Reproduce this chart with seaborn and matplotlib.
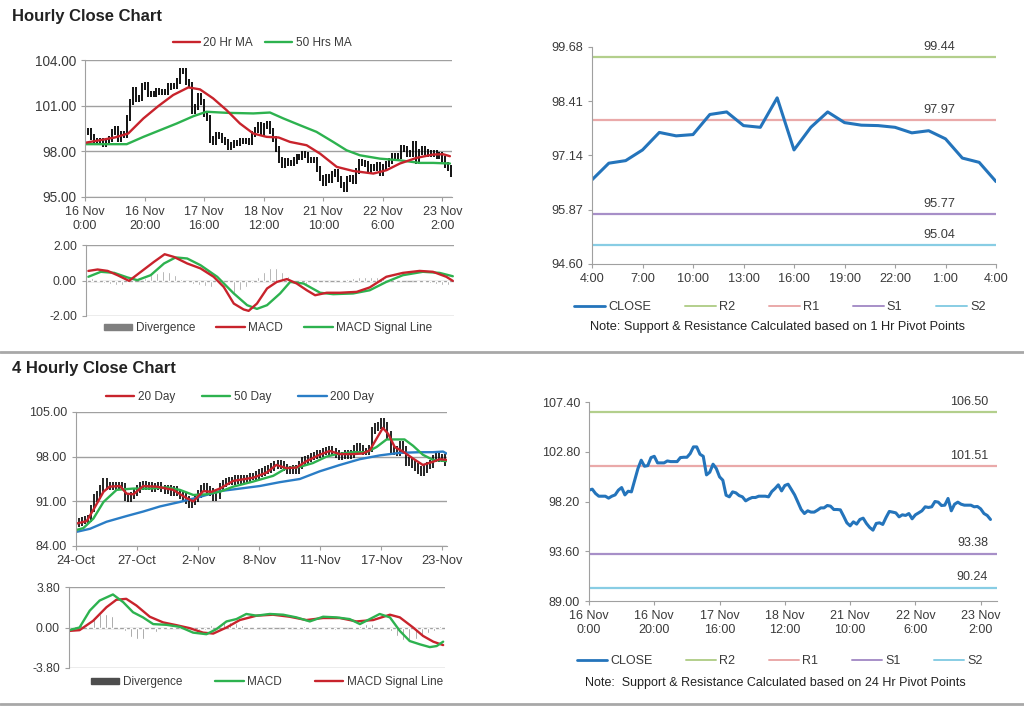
import numpy as np
import pandas as pd
import seaborn as sns
import matplotlib
matplotlib.use("Agg")
import matplotlib.pyplot as plt
from matplotlib.lines import Line2D
from matplotlib.patches import Patch
from matplotlib.ticker import FormatStrFormatter

# ---------------- DATA ----------------
# Hourly closes (16 Nov 0:00 .. 23 Nov ~3:00)
h_close = [99.25, 99.34, 98.94, 98.69, 98.69, 98.69, 98.51, 98.69, 98.81, 99.25,
           99.49, 98.81, 99.15, 99.09, 100.17, 101.25, 102.02, 101.46, 101.52, 102.26,
           102.38, 101.77, 101.77, 101.77, 101.95, 101.89, 101.89, 101.89, 102.26, 102.29,
           102.29, 102.63, 103.25, 103.25, 102.57, 102.38, 100.66, 100.91, 101.65, 101.25,
           100.48, 100.17, 98.78, 98.63, 99.09, 99.00, 98.75, 98.63, 98.26, 98.44,
           98.57, 98.57, 98.69, 98.69, 98.69, 98.63, 99.12, 99.40, 99.74, 99.18,
           99.68, 99.80, 99.31, 98.81, 98.14, 97.46, 97.09, 97.34, 97.22, 97.22,
           97.40, 97.61, 97.61, 97.83, 97.77, 97.46, 97.46, 97.43, 96.85, 96.23,
           95.95, 96.32, 96.11, 96.54, 96.66, 96.17, 95.80, 95.55, 96.17, 96.23,
           96.08, 96.72, 97.28, 97.22, 97.15, 96.78, 96.97, 96.91, 97.09, 96.60,
           96.97, 97.15, 97.34, 97.71, 97.65, 97.71, 98.20, 98.14, 97.83, 97.86,
           98.48, 97.34, 97.95, 98.14, 97.95, 97.86, 97.86, 97.86, 97.71, 97.74,
           97.52, 97.09, 96.91, 96.54]
h_tick_labels = ["16 Nov\n0:00", "16 Nov\n20:00", "17 Nov\n16:00", "18 Nov\n12:00",
                 "21 Nov\n10:00", "22 Nov\n6:00", "23 Nov\n2:00"]

ma20_idx = [0, 5, 10, 14.5, 19.6, 24.6, 29.6, 34.7, 38.6, 43, 47.5, 52, 56.5, 61, 65,
            68.8, 74.4, 78.9, 84.5, 90, 96.8, 101.2, 105.7, 111.3, 116.9, 120.2, 122.5]
ma20_val = [98.56, 98.73, 98.91, 99.17, 100.16, 100.97, 101.70, 102.20, 102.07, 101.48,
            100.71, 99.83, 99.17, 98.95, 98.91, 98.62, 98.40, 97.85, 96.98, 96.71, 96.54,
            96.76, 97.20, 97.57, 97.79, 97.81, 97.68]
ma50_idx = [0, 14, 19.6, 25.2, 30.8, 36.4, 40.8, 47.5, 56.5, 62.1, 66.6, 72.1, 77.7,
            83.3, 87.8, 92.3, 99, 105.7, 112.4, 116.9, 122.5]
ma50_val = [98.47, 98.47, 98.95, 99.39, 99.83, 100.31, 100.60, 100.53, 100.49, 100.55,
            100.16, 99.72, 99.28, 98.62, 98.07, 97.74, 97.52, 97.41, 97.24, 97.24, 97.20]

hmacd_idx = [0.8, 3.9, 7.3, 10.6, 14.5, 18.5, 22.9, 26.5, 29.6, 34.1, 38.6, 43, 46.4,
             49.8, 53.1, 54.8, 57.6, 61, 64.3, 67.7, 71, 74.4, 77.2, 81.1, 85.6, 91.2,
             95.6, 101.2, 106.8, 112.4, 116.9, 121.4, 123.6]
hmacd_val = [0.54, 0.62, 0.54, 0.30, -0.02, 0.49, 1.05, 1.48, 1.33, 0.96, 0.68, 0.21,
             -0.36, -1.30, -1.63, -1.71, -1.30, -0.45, -0.08, 0.08, -0.17, -0.55, -0.83,
             -0.69, -0.69, -0.64, -0.39, 0.21, 0.43, 0.54, 0.49, 0.21, -0.02]
hsig_idx = [0.8, 5, 9.5, 14, 17.3, 21.8, 26.3, 30.2, 34.1, 38.6, 44.2, 49.8, 54.3, 57.6,
            61, 65.4, 68.8, 73.3, 78.9, 83.3, 90, 95.6, 101.2, 106.8, 113.5, 119.1, 123.6]
hsig_val = [0.21, 0.49, 0.43, 0.17, 0.02, 0.30, 0.96, 1.30, 1.24, 0.86, 0.21, -0.73,
            -1.39, -1.60, -1.39, -0.73, -0.08, -0.17, -0.69, -0.77, -0.73, -0.55, -0.08,
            0.30, 0.49, 0.43, 0.24]
# divergence, every second hour
hdiv = [0.25, 0.15, 0.05, -0.15, -0.2, -0.25, -0.28, -0.3, -0.2, -0.05,
        0.15, 0.3, 0.45, 0.55, 0.5, 0.3, 0.1, -0.1, -0.2, -0.25,
        -0.3, -0.35, -0.45, -0.6, -0.8, -0.7, -0.55, -0.35, -0.15,
        0.2, 0.5, 0.72, 0.7, 0.5, 0.25,
        -0.05, -0.12, -0.18, -0.2, -0.15, -0.1, -0.05,
        0.0, 0.05, 0.1, 0.15, 0.18, 0.2, 0.2, 0.18, 0.12, 0.08,
        0.05, 0.02, -0.03, -0.05, -0.08, -0.1, -0.15, -0.2, -0.25, -0.28]

# last 24 hours close (top right)
d_hours = ["4:00", "7:00", "10:00", "13:00", "16:00", "19:00", "22:00", "1:00", "4:00"]
d_close = [96.57, 96.96, 97.02, 97.27, 97.68, 97.60, 97.63, 98.10, 98.16, 97.84, 97.80,
           98.49, 97.27, 97.80, 98.16, 97.91, 97.85, 97.84, 97.80, 97.67, 97.72, 97.53,
           97.08, 96.98, 96.53]
h1_levels = {"R2": 99.44, "R1": 97.97, "S1": 95.77, "S2": 95.04}
h1_yticks = [94.60, 95.87, 97.14, 98.41, 99.68]
h24_levels = {"R2": 106.50, "R1": 101.51, "S1": 93.38, "S2": 90.24}
h24_yticks = [89.00, 93.60, 98.20, 102.80, 107.40]

# 4-hourly closes (24-Oct .. 23-Nov)
q_close = [87.5, 87.8, 88.0, 88.1, 88.3, 89.9, 91.5, 92.0, 93.0, 94.1,
           93.3, 93.5, 93.3, 93.5, 93.4, 93.3, 91.7, 91.5, 91.9, 92.5,
           92.9, 93.4, 93.6, 93.3, 93.4, 93.1, 93.3, 93.4, 93.0, 92.8,
           92.9, 92.5, 92.8, 92.4, 92.0, 91.7, 91.2, 90.6, 91.0, 91.5,
           92.2, 93.0, 93.3, 92.8, 92.5, 91.7, 92.0, 93.3, 93.8, 94.1,
           94.2, 94.1, 94.5, 94.3, 94.5, 94.6, 94.5, 94.9, 94.9, 95.1,
           95.4, 95.6, 95.9, 96.1, 96.4, 96.7, 96.8, 96.7, 96.3, 95.9,
           95.9, 96.1, 95.9, 96.7, 97.3, 97.5, 97.7, 98.0, 98.2, 98.4,
           98.5, 98.8, 98.9, 99.0, 98.7, 98.4, 98.0, 98.2, 98.4, 98.2,
           98.4, 99.3, 99.5, 99.2, 98.8, 98.8, 99.3, 102.1, 102.7, 102.9,
           103.4, 102.9, 101.4, 98.8, 99.0, 98.7, 99.8, 99.0, 97.2, 97.4,
           96.9, 96.4, 95.9, 95.6, 96.1, 96.6, 96.9, 97.7, 98.2, 97.7,
           97.8, 97.1]
q_tick_labels = ["24-Oct", "27-Oct", "2-Nov", "8-Nov", "11-Nov", "17-Nov", "23-Nov"]
d20_idx = [0, 3.5, 6.2, 9, 11, 14.4, 16.6, 18.8, 22, 26.4, 31.8, 36.2, 38.4, 41.7, 44.4,
           47.1, 51.5, 58, 62.4, 65.6, 68.9, 72.2, 75.5, 79.8, 83.1, 86.4, 90.7, 94, 96.2,
           98.4, 100.5, 102.2, 104.4, 107.1, 110.4, 113.6, 116.9, 119.1, 121.3]
d20_val = [87.5, 87.9, 90.1, 92.5, 93.3, 93.4, 92.2, 92.1, 93.4, 93.3, 92.8, 91.5, 91.0,
           92.6, 92.5, 93.0, 94.2, 94.7, 95.5, 96.7, 96.2, 96.3, 97.3, 98.3, 98.9, 98.4,
           98.4, 98.5, 99.0, 100.8, 102.5, 101.6, 99.5, 98.8, 97.7, 96.7, 97.2, 97.6, 97.5]
d50_idx = [0, 2.4, 5.7, 9, 13.3, 18.8, 24.2, 29.7, 34, 38.4, 42.7, 47.1, 51.5, 58, 64.6,
           68.9, 73.3, 77.6, 82, 85.3, 90.7, 95.1, 98.4, 101.7, 106, 107.6, 110.4, 113.6,
           116.9, 121.3]
d50_val = [86.5, 86.8, 88.3, 90.9, 92.8, 93.0, 93.0, 93.2, 92.8, 92.0, 92.1, 92.5, 93.3,
           94.1, 95.0, 96.2, 96.4, 97.0, 98.0, 98.4, 98.7, 98.7, 99.5, 100.7, 100.7, 100.7,
           99.7, 98.3, 97.5, 97.3]
d200_idx = [0, 4.6, 10, 16.6, 22, 27.5, 34, 40.6, 47.1, 53.7, 60.2, 66.7, 73.3, 79.8,
            86.4, 92.9, 99.5, 106, 112.6, 116.9, 120.2, 121.3]
d200_val = [86.2, 86.7, 87.8, 88.7, 89.4, 90.2, 90.9, 91.7, 92.6, 93.0, 93.4, 94.0, 94.5,
            95.7, 96.7, 97.6, 98.2, 98.6, 98.7, 98.7, 98.8, 98.5]

qmacd_idx = [0, 3.4, 6.7, 9.9, 14.2, 17.5, 20.7, 23.9, 27.2, 31.5, 35.8, 40.1, 44.4, 47.6,
             50.9, 54.1, 57.3, 60.6, 64.9, 69.2, 73.5, 77.8, 82.1, 86.4, 90.7, 94, 97.2,
             100.4, 103.7, 106.9, 110.1, 113.4, 116.6, 118.8, 120.9]
qmacd_val = [-0.25, 0.0, 1.58, 2.53, 3.10, 2.38, 1.43, 0.95, 0.32, 0.25, 0.06, -0.48, -0.63,
             -0.16, 0.57, 0.79, 1.27, 1.11, 1.27, 1.20, 0.95, 0.57, 1.01, 0.95, 0.79, 0.32,
             0.79, 1.27, 0.95, -0.32, -1.27, -1.58, -1.84, -1.74, -1.33]
qsig_idx = [0, 3.4, 7.8, 12.1, 15.3, 18.5, 21.8, 26.1, 30.4, 34.7, 39, 43.3, 46.6, 50.9,
            55.2, 60.6, 65.9, 71.3, 76.7, 82.1, 87.5, 92.9, 98.3, 103.7, 106.9, 111.2,
            114.4, 117.7, 120.9]
qsig_val = [-0.32, -0.25, 0.63, 1.90, 2.60, 2.69, 2.06, 1.01, 0.48, 0.22, -0.06, -0.48,
            -0.57, 0.0, 0.70, 1.11, 1.20, 1.01, 0.70, 0.89, 0.89, 0.57, 0.70, 1.20, 0.95,
            0.0, -0.79, -1.33, -1.65]
qdiv = [-0.1, 0.1, 0.35, 0.7, 1.0, 1.25, 1.3, 1.1, 0.6, -0.3,
        -0.9, -1.1, -1.05, -0.8, -0.4, -0.15, 0.05, 0.05, -0.05, -0.1,
        -0.2, -0.25, -0.2, 0.2, 0.5, 0.6, 0.55, 0.4, 0.25, 0.1,
        0.05, 0.0, -0.05, -0.05, -0.08, -0.1, -0.05, 0.05, 0.1, 0.05,
        -0.05, -0.1, -0.15, -0.2, -0.15, -0.05, 0.05, 0.15, 0.3, 0.35,
        0.2, 0.05, -0.3, -0.8, -1.2, -1.3, -1.1, -0.7, -0.5, -0.3, 0.1]

# ---------------- STYLE ----------------
sns.set_style("white")
plt.rcParams["font.family"] = ["Liberation Sans", "DejaVu Sans"]
FS = 8.5
FT = 9.2
TXT = "#3a3a3a"
AX = "#a0a0a0"
RED = "#c8232c"
GRN = "#2db24f"
BLU = "#2a7dc6"
CLOSE_BLUE = "#2474bb"
LVL = {"R2": "#b3cf8c", "R1": "#eaa9a9", "S1": "#a78fc8", "S2": "#88cde4"}

W, H = 1024, 706
fig = plt.figure(figsize=(W / 100, H / 100), dpi=100)


def box(l, r, t, b):
    return [l / W, 1 - b / H, (r - l) / W, (b - t) / H]


def style(ax, grid=True, bottom_spine=True, xs=FT, ys=FT):
    for s in ["top", "right"]:
        ax.spines[s].set_visible(False)
    ax.spines["left"].set_color(AX)
    ax.spines["bottom"].set_color(AX)
    ax.spines["bottom"].set_visible(bottom_spine)
    ax.tick_params(axis="both", colors=TXT, length=3, width=0.8, left=True, bottom=True)
    ax.tick_params(axis="both", color=AX)
    ax.tick_params(axis="x", labelsize=xs)
    ax.tick_params(axis="y", labelsize=ys)
    if grid:
        ax.yaxis.grid(True, color=AX, lw=1)
    ax.set_axisbelow(True)
    ax.yaxis.set_major_formatter(FormatStrFormatter("%.2f"))


def line(ax, xs, ys, color, lw):
    df = pd.DataFrame({"x": xs, "y": ys})
    sns.lineplot(data=df, x="x", y="y", ax=ax, color=color, lw=lw, sort=False,
                 estimator=None, legend=False)
    ax.set_xlabel("")
    ax.set_ylabel("")


def bars(ax, closes, wick, lw):
    c = np.asarray(closes)
    o = np.r_[c[0], c[:-1]]
    x = np.arange(len(c))
    ax.vlines(x, np.minimum(o, c) - wick, np.maximum(o, c) + wick, color="black", lw=lw)


# ---------- Titles & separators ----------
fig.text(12 / W, 1 - 17 / H, "Hourly Close Chart", fontsize=12, fontweight="bold",
         color="#222222", va="center")
fig.text(12 / W, 1 - 369 / H, "4 Hourly Close Chart", fontsize=12, fontweight="bold",
         color="#222222", va="center")
fig.add_artist(Line2D([0, 1], [1 - 352 / H] * 2, color="#a8a8a8", lw=2))
fig.add_artist(Line2D([0, 1], [1 - 704 / H] * 2, color="#a8a8a8", lw=2))

# ---------- Top-left: hourly bars ----------
ax1 = fig.add_axes(box(85, 452, 60, 197))
bars(ax1, h_close, 0.2, 1.3)
line(ax1, ma50_idx, ma50_val, GRN, 1.7)
line(ax1, ma20_idx, ma20_val, RED, 1.7)
ax1.set_ylim(95, 104)
ax1.set_yticks([95, 98, 101, 104])
ax1.set_xlim(0, 123.2)
ax1.set_xticks(range(0, 121, 20))
ax1.set_xticklabels(h_tick_labels)
style(ax1, xs=9.0, ys=9.8)
fig.legend(handles=[Line2D([], [], color=RED, lw=1.7), Line2D([], [], color=GRN, lw=1.7)],
           labels=["20 Hr MA", "50 Hrs MA"], loc="center", bbox_to_anchor=(262 / W, 1 - 43 / H),
           ncol=2, frameon=False, fontsize=FS, handlelength=2.3, handletextpad=0.3,
           columnspacing=1.0, labelcolor=TXT)

# ---------- Top-left MACD ----------
ax2 = fig.add_axes(box(86, 454, 245, 316))
ax2.bar(np.arange(0, 2 * len(hdiv), 2), hdiv, width=0.6, color="#8c8c8c")
line(ax2, hsig_idx, hsig_val, GRN, 1.7)
line(ax2, hmacd_idx, hmacd_val, RED, 1.7)
ax2.set_ylim(-2, 2)
ax2.set_yticks([-2, 0, 2])
ax2.set_xlim(0, 124)
ax2.set_xticks([])
style(ax2, bottom_spine=False, ys=8.8)
fig.legend(handles=[Patch(color="#7f7f7f"), Line2D([], [], color=RED, lw=1.7),
                    Line2D([], [], color=GRN, lw=1.7)],
           labels=["Divergence", "MACD", "MACD Signal Line"], loc="center",
           bbox_to_anchor=(268 / W, 1 - 328 / H), ncol=3, frameon=False, fontsize=FS,
           handlelength=2.4, handleheight=0.45, handletextpad=0.3, columnspacing=1.8,
           labelcolor=TXT)

# ---------- Top-right: 1 Hr pivots ----------
ax3 = fig.add_axes(box(592, 996, 47, 264))
for k, v in h1_levels.items():
    ax3.axhline(v, color=LVL[k], lw=1.6)
    ax3.annotate(f"{v:.2f}", (21.6, v), xytext=(0, 3), textcoords="offset points",
                 ha="right", va="bottom", fontsize=FT, color=TXT)
line(ax3, list(range(len(d_close))), d_close, CLOSE_BLUE, 2.2)
ax3.set_ylim(94.60, 99.68)
ax3.set_yticks(h1_yticks)
ax3.set_xlim(0, 24)
ax3.set_xticks(range(0, 25, 3))
ax3.set_xticklabels(d_hours)
style(ax3, grid=False)
lv_handles = [Line2D([], [], color=CLOSE_BLUE, lw=2)] + \
             [Line2D([], [], color=LVL[k], lw=1.4) for k in ["R2", "R1", "S1", "S2"]]
lv_labels = ["CLOSE", "R2", "R1", "S1", "S2"]
fig.legend(handles=lv_handles, labels=lv_labels, loc="center",
           bbox_to_anchor=(780 / W, 1 - 307 / H), ncol=5, frameon=False, fontsize=FT,
           handlelength=2.4, handletextpad=0.25, columnspacing=2.65, labelcolor=TXT)
fig.text(777 / W, 1 - 327 / H, "Note: Support & Resistance Calculated based on 1 Hr Pivot Points",
         ha="center", va="center", fontsize=FT, color="#222222")

# ---------- Bottom-left: 4 hourly bars ----------
ax4 = fig.add_axes(box(76, 447, 412, 546))
bars(ax4, q_close, 0.6, 1.2)
line(ax4, d200_idx, d200_val, BLU, 1.7)
line(ax4, d50_idx, d50_val, GRN, 1.7)
line(ax4, d20_idx, d20_val, RED, 1.7)
ax4.set_ylim(84, 105)
ax4.set_yticks([84, 91, 98, 105])
ax4.set_xlim(0, 121.5)
ax4.set_xticks(range(0, 121, 20))
ax4.set_xticklabels(q_tick_labels)
style(ax4, xs=9.3, ys=9.0)
fig.legend(handles=[Line2D([], [], color=c, lw=1.7) for c in (RED, GRN, BLU)],
           labels=["20 Day", "50 Day", "200 Day"], loc="center",
           bbox_to_anchor=(240 / W, 1 - 397 / H), ncol=3, frameon=False, fontsize=FS,
           handlelength=2.4, handletextpad=0.3, columnspacing=2.3, labelcolor=TXT)

# ---------- Bottom-left MACD ----------
ax5 = fig.add_axes(box(69, 445, 587, 668))
ax5.bar(np.arange(0, 2 * len(qdiv), 2), qdiv, width=0.6, color="#7a7a7a")
line(ax5, qsig_idx, qsig_val, RED, 1.7)
line(ax5, qmacd_idx, qmacd_val, GRN, 1.7)
ax5.set_ylim(-3.8, 3.8)
ax5.set_yticks([-3.8, 0, 3.8])
ax5.set_xlim(0, 121.5)
ax5.set_xticks([])
style(ax5, bottom_spine=False, ys=8.8)
fig.legend(handles=[Patch(color="#4d4d4d"), Line2D([], [], color=GRN, lw=1.7),
                    Line2D([], [], color=RED, lw=1.7)],
           labels=["Divergence", "MACD", "MACD Signal Line"], loc="center",
           bbox_to_anchor=(267 / W, 1 - 682 / H), ncol=3, frameon=False, fontsize=FS,
           handlelength=2.4, handleheight=0.45, handletextpad=0.3, columnspacing=2.8,
           labelcolor=TXT)

# ---------- Bottom-right: 24 Hr pivots ----------
ax6 = fig.add_axes(box(589, 997, 402, 601))
for k, v in h24_levels.items():
    ax6.annotate(f"{v:.2f}", (122.3, v), xytext=(0, 3), textcoords="offset points",
                 ha="right", va="bottom", fontsize=9.0, color=TXT)
    ax6.axhline(v, color=LVL[k], lw=1.6)
line(ax6, list(range(len(h_close))), h_close, CLOSE_BLUE, 2.2)
ax6.set_ylim(89.0, 107.4)
ax6.set_yticks(h24_yticks)
ax6.set_xlim(0, 125)
ax6.set_xticks(range(0, 121, 20))
ax6.set_xticklabels(h_tick_labels)
style(ax6, grid=False, xs=9.0, ys=9.0)
fig.legend(handles=lv_handles, labels=lv_labels, loc="center",
           bbox_to_anchor=(780 / W, 1 - 661 / H), ncol=5, frameon=False, fontsize=9.0,
           handlelength=2.4, handletextpad=0.25, columnspacing=2.7, labelcolor=TXT)
fig.text(775 / W, 1 - 683 / H, "Note:  Support & Resistance Calculated based on 24 Hr Pivot Points",
         ha="center", va="center", fontsize=9.0, color="#222222")

fig.savefig("out.png", dpi=100)
